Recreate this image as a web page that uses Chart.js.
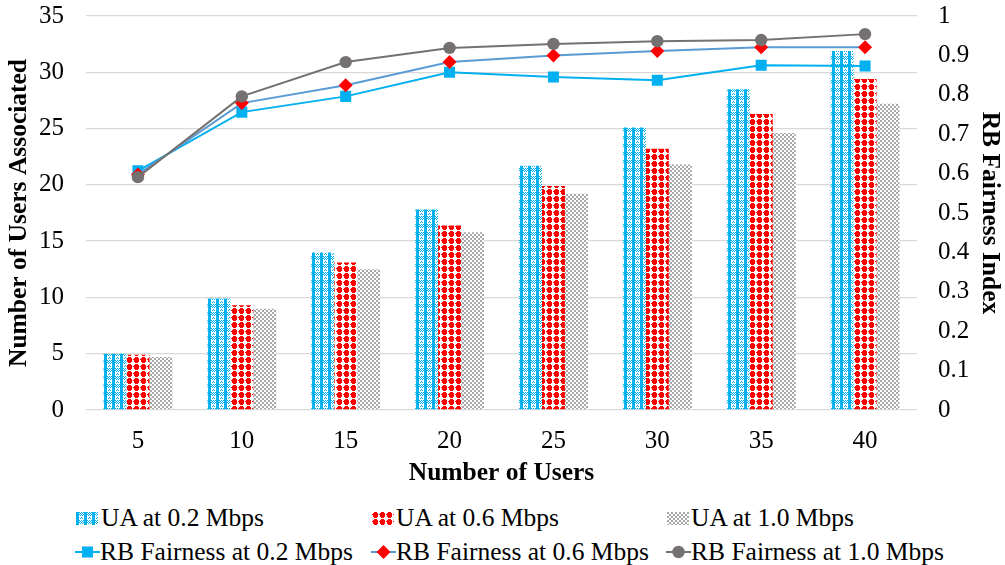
<!DOCTYPE html>
<html>
<head>
<meta charset="utf-8">
<script src="https://cdn.jsdelivr.net/npm/chart.js@4"></script>
<style>
  html, body { margin: 0; padding: 0; background: #fff; }
  #wrap { position: relative; width: 1005px; height: 565px; overflow: hidden; font-family: 'Liberation Serif', Tinos, 'Times New Roman', Times, 'DejaVu Serif', serif; }
  #c { position: absolute; left: 0; top: 0; }
  .lg { position: absolute; height: 30px; line-height: 30px; font-size: 25.5px; color: #000; white-space: nowrap; }
  .sym { position: absolute; }
</style>
</head>
<body>
<div id="wrap">
  <canvas id="c" width="1005" height="491"></canvas>
</div>
<script>
// ---- data ----
const categories = ['5', '10', '15', '20', '25', '30', '35', '40'];
const ua02 = [5.0, 9.9, 14.0, 17.8, 21.7, 25.1, 28.5, 31.9];
const ua06 = [4.9, 9.3, 13.1, 16.4, 19.9, 23.2, 26.3, 29.4];
const ua10 = [4.7, 9.0, 12.5, 15.8, 19.2, 21.8, 24.6, 27.2];
const rb02 = [0.607, 0.756, 0.796, 0.857, 0.845, 0.837, 0.875, 0.873];
const rb06 = [0.598, 0.779, 0.824, 0.883, 0.900, 0.911, 0.921, 0.921];
const rb10 = [0.591, 0.796, 0.883, 0.919, 0.929, 0.936, 0.939, 0.954];
const seriesNames = ['UA at 0.2 Mbps', 'UA at 0.6 Mbps', 'UA at 1.0 Mbps',
                     'RB Fairness at 0.2 Mbps', 'RB Fairness at 0.6 Mbps', 'RB Fairness at 1.0 Mbps'];

const BLUE = '#00B0F0', RED = '#FF0000', GRAY = '#767171', LBLUE = '#5B9BD5', DOTGRAY = '#A8A8A8';
const FONT = "'Liberation Serif', Tinos, 'Times New Roman', Times, 'DejaVu Serif', serif";

// ---- patterns ----
function tile(w, h, draw) {
  const c = document.createElement('canvas'); c.width = w; c.height = h;
  const g = c.getContext('2d'); g.fillStyle = '#fff'; g.fillRect(0, 0, w, h); draw(g); return c;
}
const blueTile = tile(8, 8, g => {
  g.fillStyle = BLUE;
  g.fillRect(0, 0, 3, 8);
  for (let x = 3; x < 8; x++) {
    if (x % 2 === 1) { g.fillRect(x, 0, 1, 1); g.fillRect(x, 2, 1, 1); }
    else { g.fillRect(x, 1, 1, 1); g.fillRect(x, 3, 1, 1); }
  }
  g.fillRect(5, 5, 1, 1); g.fillRect(4, 6, 1, 1); g.fillRect(6, 6, 1, 1);
});
const redTile = tile(7, 7, g => {
  g.fillStyle = RED;
  g.fillRect(2, 0, 3, 1);
  g.fillRect(1, 1, 5, 1);
  g.fillRect(0, 2, 6, 1);
  g.fillRect(1, 3, 5, 1);
  g.fillRect(1, 4, 5, 1);
  g.fillRect(2, 5, 3, 1);
});
const grayTile = tile(4, 4, g => {
  g.fillStyle = DOTGRAY;
  g.fillRect(0, 0, 2, 2);
  g.fillRect(2, 2, 2, 2);
});
const cctx = document.getElementById('c').getContext('2d');
const patBlue = cctx.createPattern(blueTile, 'repeat');
const patRed = cctx.createPattern(redTile, 'repeat');
const patGray = cctx.createPattern(grayTile, 'repeat');

const barCommon = { yAxisID: 'y', categoryPercentage: 0.664, barPercentage: 1.0, borderWidth: 0, order: 10 };
const noTopPad = s => { s.paddingTop = 0; s.paddingBottom = 0; };

new Chart(cctx, {
  data: {
    labels: categories,
    datasets: [
      { type: 'line', label: seriesNames[3], data: rb02, yAxisID: 'y1', borderColor: BLUE, backgroundColor: BLUE,
        borderWidth: 2, pointStyle: 'rect', pointRadius: 7.8, pointBorderWidth: 0, order: 3, tension: 0 },
      { type: 'line', label: seriesNames[4], data: rb06, yAxisID: 'y1', borderColor: LBLUE, backgroundColor: RED,
        borderWidth: 2, pointStyle: 'rectRot', pointRadius: 7, pointBorderWidth: 0, pointBackgroundColor: RED, order: 2, tension: 0 },
      { type: 'line', label: seriesNames[5], data: rb10, yAxisID: 'y1', borderColor: GRAY, backgroundColor: GRAY,
        borderWidth: 2, pointStyle: 'circle', pointRadius: 6.2, pointBorderWidth: 0, order: 1, tension: 0 },
      Object.assign({ type: 'bar', label: seriesNames[0], data: ua02, backgroundColor: patBlue }, barCommon),
      Object.assign({ type: 'bar', label: seriesNames[1], data: ua06, backgroundColor: patRed }, barCommon),
      Object.assign({ type: 'bar', label: seriesNames[2], data: ua10, backgroundColor: patGray }, barCommon)
    ]
  },
  options: {
    responsive: false,
    animation: false,
    layout: { padding: { top: 16, left: 0, right: 0, bottom: 0 } },
    plugins: { legend: { display: false }, tooltip: { enabled: false } },
    scales: {
      x: {
        type: 'category',
        grid: { display: false },
        border: { display: false },
        ticks: { color: '#000', font: { family: FONT, size: 25 }, padding: 8 },
        title: { display: true, text: 'Number of Users', color: '#000', font: { family: FONT, size: 25.5, weight: 'bold' }, padding: { top: 0, bottom: 2 } },
        afterFit: s => { s.height = 81; s.paddingLeft = 0; s.paddingRight = 0; }
      },
      y: {
        position: 'left', min: 0, max: 35,
        ticks: { stepSize: 5, color: '#000', font: { family: FONT, size: 25 }, padding: 22 },
        grid: { color: '#D9D9D9', lineWidth: 1.3, drawTicks: false },
        border: { display: false },
        title: { display: true, text: 'Number of Users Associated', color: '#000', font: { family: FONT, size: 25.5, weight: 'bold' }, padding: { top: 4, bottom: 0 } },
        afterFit: s => { s.width = 86; noTopPad(s); }
      },
      y1: {
        position: 'right', min: 0, max: 1,
        ticks: { stepSize: 0.1, color: '#000', font: { family: FONT, size: 25 }, padding: 21,
                 callback: v => String(Math.round(v * 10) / 10) },
        grid: { drawOnChartArea: false, drawTicks: false },
        border: { display: false },
        title: { display: true, text: 'RB Fairness Index', color: '#000', font: { family: FONT, size: 25.5, weight: 'bold' }, padding: { top: 0, bottom: 0 } },
        afterFit: s => { s.width = 88; noTopPad(s); }
      }
    }
  }
});

// ---- legend (HTML) ----
const wrap = document.getElementById('wrap');
function addItem(text, symX, textX, cy, drawSym, sw, sh) {
  const sc = document.createElement('canvas');
  sc.width = sw; sc.height = sh; sc.className = 'sym';
  sc.style.left = symX + 'px'; sc.style.top = (cy - sh / 2) + 'px';
  drawSym(sc.getContext('2d'), sw, sh);
  wrap.appendChild(sc);
  const d = document.createElement('div');
  d.className = 'lg'; d.textContent = text;
  d.style.left = textX + 'px'; d.style.top = (cy - 15) + 'px';
  wrap.appendChild(d);
}
function boxSym(pat) { return (g, w, h) => { g.fillStyle = g.createPattern(pat, 'repeat'); g.fillRect(0, 0, w, h); }; }
function lineSym(lineColor, markerColor, shape) {
  return (g, w, h) => {
    g.strokeStyle = lineColor; g.lineWidth = 2;
    g.beginPath(); g.moveTo(0, h / 2); g.lineTo(w, h / 2); g.stroke();
    g.fillStyle = markerColor; const cx = w / 2, cy = h / 2;
    g.beginPath();
    if (shape === 'rect') g.rect(cx - 5.5, cy - 5.5, 11, 11);
    else if (shape === 'diamond') { g.moveTo(cx, cy - 7); g.lineTo(cx + 7, cy); g.lineTo(cx, cy + 7); g.lineTo(cx - 7, cy); g.closePath(); }
    else g.arc(cx, cy, 6.2, 0, Math.PI * 2);
    g.fill();
  };
}
const r1 = 518, r2 = 552;
addItem(seriesNames[0], 76, 101, r1, boxSym(blueTile), 22, 13);
addItem(seriesNames[1], 372, 396, r1, boxSym(redTile), 22, 13);
addItem(seriesNames[2], 667, 691, r1, boxSym(grayTile), 22, 13);
addItem(seriesNames[3], 75, 100, r2, lineSym(BLUE, BLUE, 'rect'), 25, 16);
addItem(seriesNames[4], 371, 396, r2, lineSym(LBLUE, RED, 'diamond'), 25, 16);
addItem(seriesNames[5], 666, 691, r2, lineSym(GRAY, GRAY, 'circle'), 25, 16);
</script>
</body>
</html>
